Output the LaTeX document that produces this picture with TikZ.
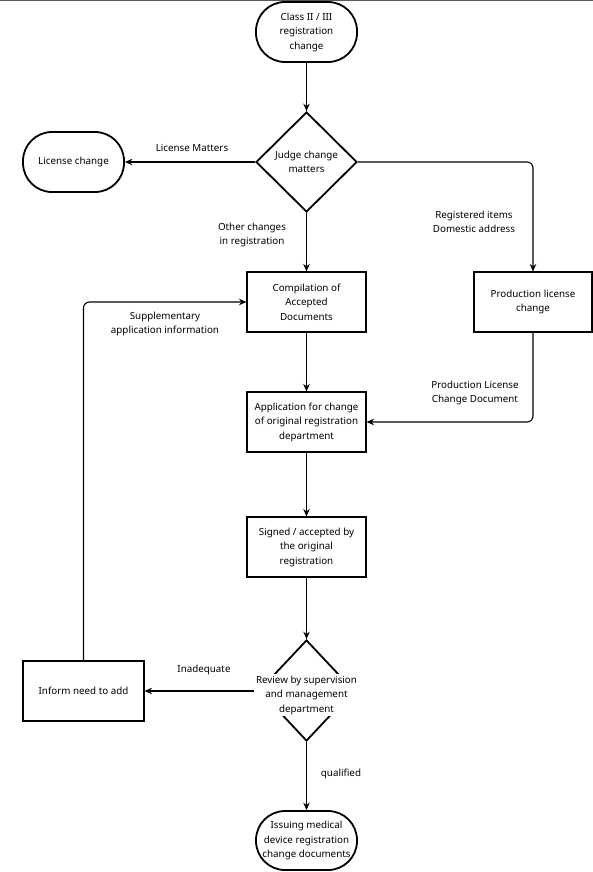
\documentclass[tikz,border=0pt]{standalone}
\usepackage{fontspec}
\setmainfont{Noto Sans}
\usetikzlibrary{shapes.geometric,arrows.meta}
\begin{document}
\begin{tikzpicture}[x=1pt,y=-1pt,
  font=\fontsize{9.8}{14.5}\selectfont,
  term/.style={draw,line width=1.8pt,rounded corners=29pt,minimum width=101pt,minimum height=60pt,inner sep=0pt,align=center},
  box/.style={draw,line width=1.1pt,minimum width=119pt,minimum height=60pt,inner sep=0pt,align=center},
  dia/.style={draw,diamond,line width=1.8pt,minimum width=101pt,minimum height=100pt,inner sep=0pt},
  lbl/.style={align=center,inner sep=0pt},
  arr/.style={line width=1.1pt,-{Stealth[length=7.5pt,width=6.5pt]}},
]
\useasboundingbox (0,0) rectangle (593,872);
\draw[line width=1.5pt,black!65] (0,0.6) -- (593,0.6);

\node[term] (start) at (306.5,32) {Class II / III\\registration\\change};
\node[dia] (judge) at (306.5,162) {};
\node[lbl] (judgetxt) at (306.5,162) {Judge change\\matters};
\node[term] (lic) at (73.5,162) {License change};
\node[box] (comp) at (306.5,302) {Compilation of\\Accepted\\Documents};
\node[box,minimum width=118pt] (prod) at (533,302) {Production license\\change};
\node[box] (app) at (306.5,422) {Application for change\\of original registration\\department};
\node[box] (signed) at (306.5,547) {Signed / accepted by\\the original\\registration};
\node[dia,minimum width=95pt,minimum height=101pt] (review) at (306.5,690.5) {};
\node[lbl,fill=white,inner sep=1.5pt] (reviewtxt) at (306.5,695) {Review by supervision\\and management\\department};
\node[box,minimum width=121pt] (inform) at (83.5,691) {Inform need to add};
\node[term,minimum height=59pt] (end) at (306.5,840.5) {Issuing medical\\device registration\\change documents};

\draw[arr] (start) -- (judge);
\draw[arr] (judge.west) -- (lic.east);
\node[lbl] (l1) at (192,148) {License Matters};
\draw[arr,rounded corners=6pt] (judge.east) -| (prod.north);
\node[lbl] (l2) at (474,222) {Registered items\\Domestic address};
\draw[arr] (judge.south) -- (comp.north);
\node[lbl] (l3) at (252,235) {Other changes\\in registration};
\draw[arr] (comp) -- (app);
\draw[arr,rounded corners=6pt] (prod.south) |- (app.east);
\node[lbl] (l4) at (475,393) {Production License\\Change Document};
\draw[arr] (app) -- (signed);
\draw[arr] (signed) -- (review.north);
\coordinate (rvw) at (reviewtxt.west |- inform.east);
\draw[arr] (rvw) -- (inform.east);
\node[lbl] (l5) at (204,670) {Inadequate};
\draw[arr,rounded corners=6pt] (inform.north) |- (comp.west);
\node[lbl] (l6) at (165,324) {Supplementary\\application information};
\draw[arr] (review.south) -- (end.north);
\node[lbl] (l7) at (341,774) {qualified};
\end{tikzpicture}
\end{document}
